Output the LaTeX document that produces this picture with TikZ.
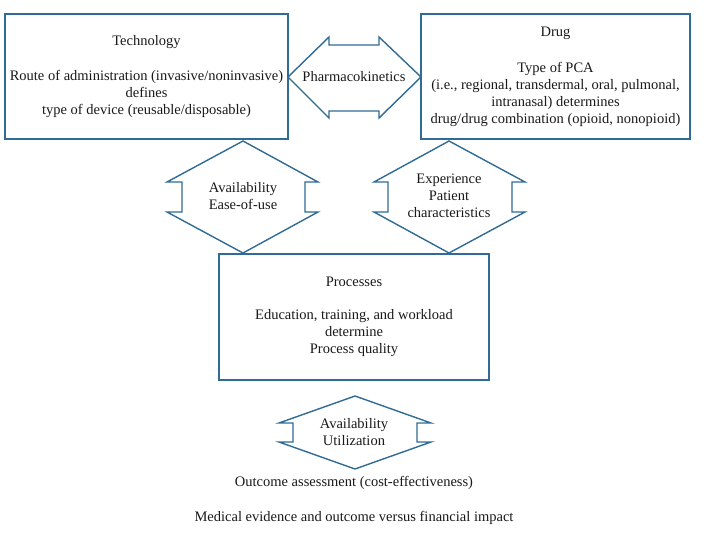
\documentclass[tikz,border=0pt]{standalone}
\usepackage{fontspec}
\setmainfont{Liberation Serif}
\definecolor{edge}{RGB}{47,107,148}
\begin{document}
\begin{tikzpicture}[x=1pt,y=-1pt,
  box/.style={draw=edge,line width=1.4pt},
  dblarrow/.style={draw=edge,line width=1.4pt,line join=miter},
  txt/.style={inner sep=0pt,align=center,text=black!90,font=\fontsize{14.5}{17}\selectfont},
]
\useasboundingbox (0,0) rectangle (709,551);
% boxes
\draw[box] (5,14) rectangle (288,139);
\draw[box] (421,14) rectangle (690,139);
\draw[box] (219,254) rectangle (489,380);
% horizontal double arrow
\draw[dblarrow] (288,77) -- (329,37) -- (329,45) -- (379,45) -- (379,37) -- (421,77)
  -- (379,118) -- (379,111) -- (329,111) -- (329,118) -- cycle;
% left vertical double arrow
\draw[dblarrow] (243,141) -- (318,182) -- (305,182) -- (305,212) -- (318,212) -- (243,253)
  -- (167,212) -- (182,212) -- (182,182) -- (167,182) -- cycle;
% right vertical double arrow
\draw[dblarrow] (449,141) -- (525,182) -- (512,182) -- (512,212) -- (525,212) -- (449,253)
  -- (374,212) -- (388,212) -- (388,182) -- (374,182) -- cycle;
% bottom vertical double arrow
\draw[dblarrow] (355,396) -- (431,423) -- (417,423) -- (417,442) -- (431,442) -- (355,469)
  -- (279,442) -- (293,442) -- (293,423) -- (279,423) -- cycle;
% texts
\node[txt] (techt) at (146.5,42) {Technology};
\node[txt] (techb) at (146.5,94) {Route of administration (invasive/noninvasive)\\defines\\type of device (reusable/disposable)};
\node[txt] (drugt) at (555.5,33) {Drug};
\node[txt] (drugb) at (555.5,94) {Type of PCA\\(i.e., regional, transdermal, oral, pulmonal,\\intranasal) determines\\drug/drug combination (opioid, nonopioid)};
\node[txt] (pk) at (354,77) {Pharmacokinetics};
\node[txt] (avail) at (243,196) {Availability\\Ease-of-use};
\node[txt] (exper) at (449,196) {Experience\\Patient\\characteristics};
\node[txt] (proct) at (354,282) {Processes};
\node[txt] (procb) at (354,333) {Education, training, and workload\\determine\\Process quality};
\node[txt] (util) at (354,432) {Availability\\Utilization};
\node[txt] (outc) at (354,483) {Outcome assessment (cost-effectiveness)};
\node[txt] (medev) at (354,518) {Medical evidence and outcome versus financial impact};
\end{tikzpicture}
\end{document}
